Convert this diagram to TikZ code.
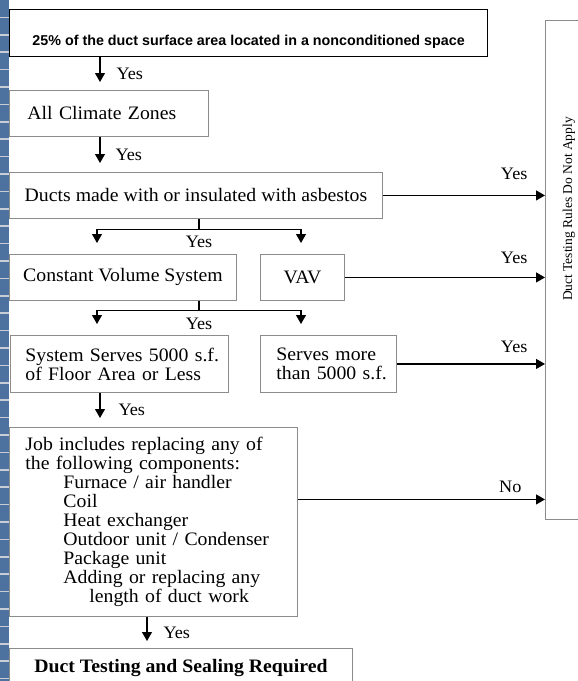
\documentclass[tikz,border=0pt]{standalone}
\usepackage{fontspec}
\setmainfont{Liberation Serif}[FakeStretch=1.04]
\setsansfont{Liberation Sans}
\newfontfamily\rotserif{Liberation Serif}
\usetikzlibrary{arrows.meta}
\definecolor{stripblue}{HTML}{4E72A0}
\definecolor{stripline}{HTML}{C9CED6}
\definecolor{boxgray}{HTML}{8C8C8C}
\begin{document}
\begin{tikzpicture}[x=1pt,y=-1pt, line cap=butt, line join=miter,
  box/.style={draw=boxgray, line width=.9pt, fill=white, anchor=north west, inner ysep=0pt, font=\fontsize{19}{19}\selectfont},
  flow/.style={-{Triangle[length=9pt,width=10pt]}, line width=1.1pt},
  yes/.style={font=\fontsize{17.5}{18}\selectfont, inner sep=2pt}]
\useasboundingbox (0,0) rectangle (578,681);
\clip (0,0) rectangle (578,681);
\fill[white] (0,0) rectangle (578,681);
% slide strip on the left edge
\fill[stripblue] (0,0) rectangle (8.5,681);
\foreach \y in {17.4,34.8,...,681} {\draw[stripline,line width=1.5pt] (0,\y) -- (8.5,\y);}

% columns of the vertical connectors
\coordinate (colA) at (100,0);
\coordinate (colB) at (147,0);
\coordinate (colM) at (199,0);
\coordinate (colL) at (97,0);
\coordinate (colR) at (301,0);

% decision boxes
\node[box, draw=black, line width=1.2pt, minimum width=478, minimum height=47, text height=29, text depth=4, font=\sffamily\bfseries\fontsize{14.3}{16}\selectfont] (scope) at (9,9) {25\% of the duct surface area located in a nonconditioned space};
\node[box, minimum width=199, minimum height=46, inner xsep=18, text width=163, align=left] (zones) at (9,90) {All Climate Zones};
\node[box, minimum width=373, minimum height=46] (asbestos) at (9,172) {Ducts made with or insulated with asbestos};
\node[box, minimum width=227, minimum height=46] (cvs) at (9,254) {Constant Volume System};
\node[box, minimum width=84, minimum height=46] (vav) at (260,254) {VAV};
\node[box, minimum width=218, minimum height=57, inner xsep=15, text width=188, align=left] (small) at (10,335) {\mbox{System Serves 5000 s.f.}\\\mbox{of Floor Area or Less}};
\node[box, minimum width=136, minimum height=57, inner xsep=16, text width=104, align=left] (large) at (260,335) {\mbox{Serves more}\\\mbox{than 5000 s.f.}};
\node[box, minimum width=288, minimum height=189, inner xsep=16, text width=256, align=left] (job) at (9,427) {Job includes replacing any of\\the following components:\\
  \hspace*{38pt}Furnace / air handler\\
  \hspace*{38pt}Coil\\
  \hspace*{38pt}Heat exchanger\\
  \hspace*{38pt}Outdoor unit / Condenser\\
  \hspace*{38pt}Package unit\\
  \hspace*{38pt}Adding or replacing any\\
  \hspace*{64pt}length of duct work};
\node[box, minimum width=343, minimum height=40, font=\bfseries\fontsize{19}{19}\selectfont] (required) at (9,648) {Duct Testing and Sealing Required};
\node[box, minimum width=60, minimum height=499] (na) at (545,20) {};
\node[rotate=90, font=\rotserif\fontsize{13.5}{14}\selectfont] (natext) at (569,209) {Duct Testing Rules Do Not Apply};

% main chain
\draw[flow, shorten >=8pt] (scope.south -| colA) -- node[yes, right, xshift=14pt] (yes1) {Yes} (zones.north -| colA);
\draw[flow, shorten >=9pt] (zones.south -| colA) -- node[yes, right, xshift=13pt] (yes2) {Yes} (asbestos.north -| colA);
\draw[line width=1.1pt] (asbestos.south -| colM) -- ++(0,11) coordinate (split1);
\draw[flow, shorten >=11pt] (split1) -| (cvs.north -| colL);
\draw[flow, shorten >=11pt] (split1) -| (vav.north -| colR);
\node[yes, below, yshift=-4pt] (yes3) at (split1) {Yes};
\draw[line width=1.1pt] (cvs.south -| colM) -- ++(0,10) coordinate (split2);
\draw[flow, shorten >=11pt] (split2) -| (small.north -| colL);
\draw[flow, shorten >=11pt] (split2) -| (large.north -| colR);
\node[yes, below, yshift=-5pt] (yes4) at (split2) {Yes};
\draw[flow, shorten >=9pt] (small.south -| colA) -- node[yes, right, xshift=16pt] (yes5) {Yes} (job.north -| colA);
\draw[flow, shorten >=7pt] (job.south -| colB) -- node[yes, right, xshift=14pt] (yes6) {Yes} (required.north -| colB);

% exits to the right-hand box
\draw[flow] (asbestos.east) -- node[pos=1, yes, anchor=south east, xshift=-15pt, yshift=13pt] (yes7) {Yes} (asbestos.east -| na.west);
\draw[flow] (vav.east) -- node[pos=1, yes, anchor=south east, xshift=-15pt, yshift=11pt] (yes8) {Yes} (vav.east -| na.west);
\draw[flow] (large.east) -- node[pos=1, yes, anchor=south east, xshift=-15pt, yshift=9pt] (yes9) {Yes} (large.east -| na.west);
\draw[flow] ([yshift=22.5pt]job.east) -- node[pos=1, yes, anchor=south east, xshift=-21pt, yshift=4pt] (no1) {No} ([yshift=22.5pt]job.east -| na.west);
\end{tikzpicture}
\end{document}
